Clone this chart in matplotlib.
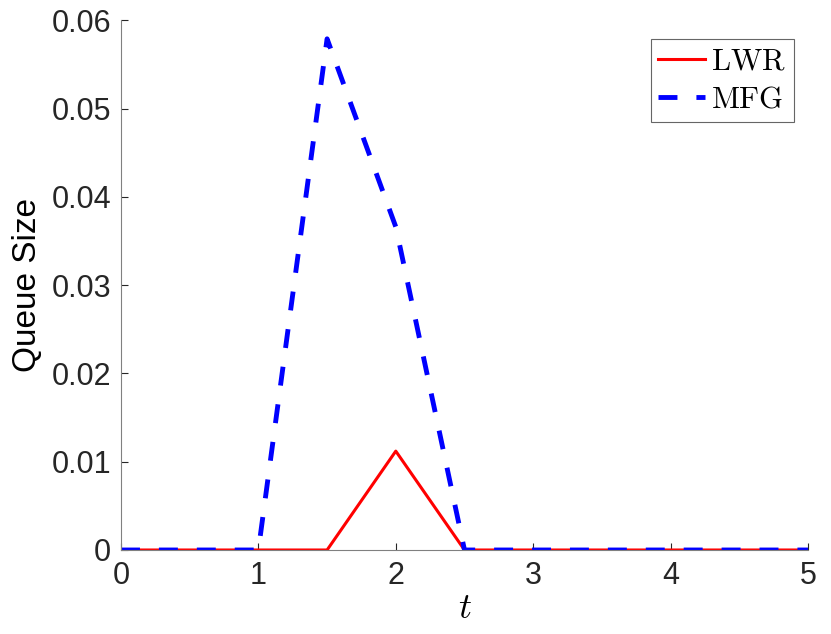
import numpy as np
import matplotlib
matplotlib.use('Agg')
import matplotlib.pyplot as plt

# 数据
t = [0, 0.5, 1.0, 1.5, 2.0, 2.5, 3.0, 3.5, 4.0, 4.5, 5.0]
lwr = [0, 0, 0, 0, 0.0112, 0, 0, 0, 0, 0, 0]
mfg = [0, 0, 0, 0.0579, 0.0366, 0, 0, 0, 0, 0, 0]

x_ticks = [0, 1, 2, 3, 4, 5]
y_ticks = [0, 0.01, 0.02, 0.03, 0.04, 0.05, 0.06]
y_ticklabels = ['0', '0.01', '0.02', '0.03', '0.04', '0.05', '0.06']

plt.rcParams.update({
    'font.family': 'Liberation Sans',
    'font.size': 22,
    'mathtext.fontset': 'cm',
    'xtick.direction': 'in',
    'ytick.direction': 'in',
    'xtick.major.size': 5,
    'ytick.major.size': 5,
    'xtick.color': '#262626',
    'ytick.color': '#262626',
    'xtick.labelcolor': '#262626',
    'ytick.labelcolor': '#262626',
})

fig = plt.figure(figsize=(8.31, 6.34), dpi=100)
ax = fig.add_axes([0.1456, 0.1325, 0.8267, 0.8355])

ax.plot(t, lwr, color='red', linewidth=2.2, label=r'$\mathrm{LWR}$')
ax.plot(t, mfg, color='blue', linewidth=3.5, linestyle=(0, (3.9, 3.9)),
        label=r'$\mathrm{MFG}$')

ax.set_xlim(0, 5)
ax.set_ylim(0, 0.06)
ax.set_xticks(x_ticks)
ax.set_yticks(y_ticks)
ax.set_yticklabels(y_ticklabels)
ax.tick_params(axis='x', pad=8, labelsize=22)
ax.tick_params(axis='y', pad=7, labelsize=22)

for side in ['top', 'right']:
    ax.spines[side].set_visible(False)
for side in ['left', 'bottom']:
    ax.spines[side].set_color('#808080')
    ax.spines[side].set_linewidth(0.8)

ax.set_xlabel(r'$t$', fontsize=26, labelpad=0)
ax.set_ylabel('Queue Size', fontsize=24, labelpad=6)

leg = ax.legend(loc='upper right', bbox_to_anchor=(0.9796, 0.964), fontsize=22,
                frameon=True, fancybox=False, edgecolor='#404040',
                borderpad=0.25, labelspacing=0.25, handlelength=1.54,
                handletextpad=0.2, borderaxespad=0)
leg.get_frame().set_linewidth(0.8)

fig.savefig('out.png', dpi=100)
